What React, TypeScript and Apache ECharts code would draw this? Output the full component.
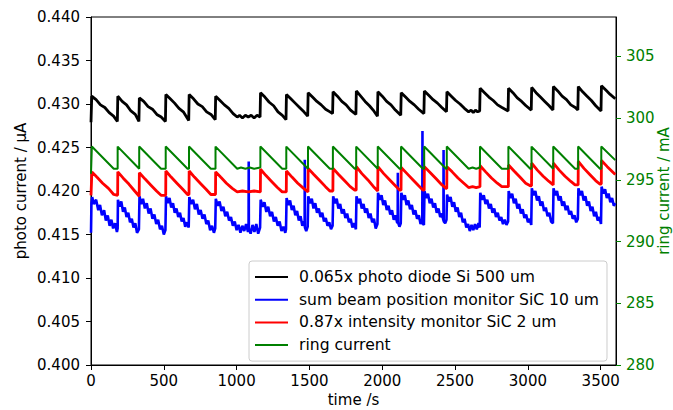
import React, { useEffect, useRef } from "react";
import * as echarts from "echarts";

const seriesNames = [
  "0.065x photo diode Si 500 um",
  "sum beam position monitor SiC 10 um",
  "0.87x intensity monitor SiC 2 um",
  "ring current",
];
const seriesColors = ["#000000", "#0000ff", "#ff0000", "#008000"];

const xTicks = [0, 500, 1000, 1500, 2000, 2500, 3000, 3500];
const rightTicks = [280, 285, 290, 295, 300, 305];

const photoDiode: [number, number][] = [
  [0, .4279], [5, .4309], [35, .4305], [65, .4299], [95, .4296], [125, .4290], [155, .4286], [181, .4280],
  [184, .4309], [214, .4303], [244, .4299], [274, .4292], [304, .4288], [329, .4280],
  [332, .4307], [362, .4303], [392, .4297], [422, .4294], [452, .4288], [482, .4285], [511, .4280],
  [514, .4311], [544, .4306], [574, .4301], [604, .4295], [634, .4291], [671, .4281],
  [674, .4311], [704, .4306], [734, .4300], [764, .4297], [794, .4291], [824, .4288], [853, .4282],
  [856, .4309], [886, .4304], [916, .4299], [946, .4295], [976, .4289], [1004, .4285], [1020, .4287], [1040, .4284], [1060, .4287], [1080, .4285], [1100, .4287], [1120, .4284], [1140, .4287], [1161, .4285],
  [1164, .4313], [1194, .4308], [1224, .4302], [1254, .4298], [1284, .4291], [1314, .4287], [1339, .4282],
  [1342, .4311], [1372, .4306], [1402, .4301], [1432, .4296], [1462, .4291], [1488, .4286],
  [1491, .4313], [1521, .4308], [1551, .4303], [1581, .4299], [1611, .4294], [1641, .4291], [1659, .4289],
  [1662, .4314], [1692, .4309], [1722, .4303], [1752, .4299], [1782, .4293], [1819, .4288],
  [1822, .4315], [1852, .4309], [1882, .4303], [1912, .4298], [1942, .4292], [1967, .4286],
  [1970, .4314], [2000, .4309], [2030, .4303], [2060, .4299], [2090, .4293], [2127, .4287],
  [2130, .4313], [2160, .4308], [2190, .4303], [2220, .4299], [2250, .4294], [2286, .4289],
  [2289, .4315], [2319, .4310], [2349, .4305], [2379, .4301], [2409, .4296], [2441, .4291],
  [2444, .4314], [2474, .4309], [2504, .4304], [2534, .4300], [2564, .4295], [2593, .4291], [2610, .4293], [2625, .4290], [2640, .4293], [2655, .4291], [2669, .4292],
  [2672, .4318], [2702, .4313], [2732, .4308], [2762, .4304], [2792, .4299], [2822, .4296], [2864, .4292],
  [2867, .4318], [2897, .4313], [2927, .4307], [2957, .4303], [2987, .4298], [3023, .4293],
  [3026, .4319], [3056, .4313], [3086, .4308], [3116, .4303], [3146, .4298], [3172, .4293],
  [3175, .4320], [3205, .4315], [3235, .4309], [3265, .4305], [3295, .4299], [3325, .4296], [3343, .4293],
  [3346, .4320], [3376, .4314], [3406, .4309], [3436, .4304], [3466, .4298], [3502, .4292],
  [3505, .4321], [3535, .4316], [3565, .4311], [3600, .4306],
];

const beamPosition: [number, number][] = [
  [0, .4152], [3, .4186], [8, .4193], [20, .4185], [35, .4190], [50, .4178], [62, .4184], [75, .4172], [90, .4178], [102, .4166], [115, .4172], [128, .4160], [140, .4167], [152, .4157], [165, .4163], [178, .4153], [183, .4157],
  [185, .4190], [196, .4182], [208, .4188], [220, .4176], [232, .4181], [244, .4170], [256, .4175], [268, .4164], [280, .4168], [292, .4158], [304, .4163], [316, .4152], [329, .4156],
  [333, .4194], [345, .4185], [357, .4191], [370, .4180], [383, .4186], [396, .4174], [409, .4180], [422, .4168], [435, .4173], [448, .4162], [461, .4167], [474, .4156], [487, .4160], [500, .4150], [511, .4155],
  [515, .4194], [527, .4186], [539, .4192], [551, .4181], [563, .4186], [575, .4175], [587, .4180], [599, .4170], [611, .4175], [623, .4165], [635, .4169], [647, .4159], [659, .4164], [671, .4158],
  [675, .4193], [688, .4185], [701, .4190], [714, .4179], [727, .4185], [740, .4173], [753, .4178], [766, .4168], [779, .4173], [792, .4162], [805, .4166], [818, .4155], [831, .4160], [844, .4152], [853, .4157],
  [857, .4191], [870, .4183], [883, .4188], [896, .4177], [909, .4182], [922, .4171], [935, .4176], [948, .4166], [961, .4170], [974, .4160], [987, .4165], [1000, .4155], [1013, .4161], [1026, .4152], [1039, .4160], [1052, .4154], [1065, .4162], [1078, .4153], [1082, .4158], [1083, .4234], [1084, .4157], [1096, .4151], [1109, .4161], [1122, .4153], [1135, .4162], [1148, .4151], [1161, .4158],
  [1165, .4190], [1178, .4182], [1191, .4187], [1204, .4176], [1217, .4182], [1230, .4171], [1243, .4176], [1256, .4165], [1269, .4170], [1282, .4160], [1295, .4165], [1308, .4154], [1321, .4159], [1334, .4152], [1339, .4156],
  [1343, .4192], [1355, .4184], [1367, .4189], [1379, .4178], [1391, .4183], [1403, .4172], [1415, .4177], [1427, .4166], [1439, .4171], [1451, .4160], [1463, .4165], [1467, .4160], [1468, .4236], [1469, .4158], [1478, .4154], [1488, .4159],
  [1492, .4194], [1504, .4186], [1516, .4191], [1528, .4180], [1540, .4186], [1552, .4175], [1564, .4180], [1576, .4170], [1588, .4175], [1600, .4165], [1612, .4169], [1624, .4160], [1636, .4164], [1648, .4156], [1659, .4160],
  [1663, .4194], [1675, .4186], [1687, .4191], [1699, .4180], [1711, .4185], [1723, .4174], [1735, .4179], [1747, .4169], [1759, .4174], [1771, .4164], [1783, .4168], [1795, .4158], [1807, .4163], [1819, .4156],
  [1823, .4194], [1835, .4186], [1847, .4191], [1859, .4180], [1871, .4185], [1883, .4175], [1895, .4180], [1907, .4169], [1919, .4174], [1931, .4164], [1943, .4168], [1955, .4157], [1967, .4162],
  [1971, .4198], [1983, .4190], [1995, .4195], [2007, .4184], [2019, .4189], [2031, .4178], [2043, .4183], [2055, .4173], [2067, .4178], [2079, .4167], [2091, .4172], [2103, .4163], [2106, .4167], [2107, .4221], [2108, .4164], [2118, .4159], [2127, .4163],
  [2131, .4198], [2143, .4190], [2155, .4195], [2167, .4184], [2179, .4189], [2191, .4179], [2203, .4184], [2215, .4173], [2227, .4178], [2239, .4168], [2251, .4172], [2263, .4162], [2275, .4167], [2276, .4269], [2277, .4163], [2286, .4161],
  [2290, .4200], [2302, .4192], [2314, .4197], [2326, .4186], [2338, .4191], [2350, .4181], [2362, .4186], [2374, .4175], [2386, .4180], [2398, .4170], [2410, .4174], [2420, .4166], [2421, .4247], [2422, .4165], [2432, .4163], [2441, .4167],
  [2445, .4196], [2457, .4188], [2469, .4193], [2481, .4182], [2493, .4187], [2505, .4176], [2517, .4181], [2529, .4170], [2541, .4175], [2553, .4164], [2565, .4168], [2577, .4158], [2589, .4162], [2601, .4154], [2613, .4161], [2625, .4155], [2637, .4162], [2649, .4156], [2661, .4163], [2669, .4158],
  [2673, .4198], [2685, .4190], [2697, .4195], [2709, .4185], [2721, .4190], [2733, .4180], [2745, .4185], [2757, .4175], [2769, .4180], [2781, .4170], [2793, .4175], [2805, .4166], [2817, .4170], [2829, .4162], [2841, .4167], [2853, .4161], [2864, .4165],
  [2868, .4200], [2880, .4192], [2892, .4197], [2904, .4186], [2916, .4191], [2928, .4180], [2940, .4185], [2952, .4174], [2964, .4179], [2976, .4169], [2988, .4173], [3000, .4164], [3012, .4168], [3023, .4161],
  [3027, .4203], [3039, .4195], [3051, .4200], [3063, .4189], [3075, .4194], [3087, .4183], [3099, .4188], [3111, .4177], [3123, .4181], [3135, .4171], [3147, .4175], [3159, .4165], [3172, .4163],
  [3176, .4203], [3188, .4195], [3200, .4200], [3212, .4189], [3224, .4194], [3236, .4183], [3248, .4188], [3260, .4178], [3272, .4183], [3284, .4173], [3296, .4177], [3308, .4168], [3320, .4172], [3332, .4164], [3343, .4168],
  [3347, .4203], [3359, .4195], [3371, .4200], [3383, .4189], [3395, .4194], [3407, .4183], [3419, .4188], [3431, .4177], [3443, .4182], [3455, .4171], [3467, .4176], [3479, .4166], [3491, .4170], [3502, .4162],
  [3506, .4205], [3518, .4197], [3530, .4202], [3542, .4192], [3554, .4197], [3566, .4187], [3578, .4192], [3590, .4183], [3600, .4186],
];

const intensityMonitor: [number, number][] = [
  [0, .4195], [6, .4222], [40, .4216], [80, .4209], [120, .4203], [156, .4196], [183, .4195],
  [184, .4222], [220, .4215], [260, .4208], [300, .4200], [331, .4194],
  [332, .4221], [370, .4214], [410, .4207], [450, .4200], [481, .4195], [513, .4195],
  [514, .4223], [550, .4216], [590, .4209], [630, .4202], [663, .4196], [673, .4196],
  [674, .4223], [710, .4216], [750, .4209], [790, .4202], [823, .4196], [855, .4196],
  [856, .4222], [890, .4216], [930, .4209], [970, .4203], [1004, .4199], [1040, .4200], [1080, .4199], [1120, .4200], [1163, .4199],
  [1164, .4225], [1200, .4218], [1240, .4211], [1280, .4204], [1313, .4199], [1341, .4199],
  [1342, .4223], [1380, .4216], [1420, .4209], [1460, .4203], [1490, .4199],
  [1491, .4226], [1530, .4219], [1570, .4212], [1610, .4205], [1640, .4200], [1661, .4200],
  [1662, .4226], [1700, .4219], [1740, .4212], [1780, .4205], [1811, .4201], [1821, .4201],
  [1822, .4228], [1860, .4220], [1900, .4213], [1940, .4205], [1969, .4200],
  [1970, .4228], [2010, .4220], [2050, .4213], [2090, .4206], [2119, .4201], [2129, .4201],
  [2130, .4227], [2170, .4220], [2210, .4213], [2250, .4206], [2279, .4201], [2288, .4201],
  [2289, .4228], [2330, .4221], [2370, .4214], [2410, .4207], [2438, .4203], [2443, .4203],
  [2444, .4228], [2480, .4222], [2520, .4215], [2560, .4209], [2593, .4204], [2620, .4205], [2645, .4204], [2671, .4205],
  [2672, .4229], [2710, .4222], [2750, .4215], [2790, .4209], [2821, .4205], [2866, .4205],
  [2867, .4230], [2905, .4223], [2945, .4216], [2985, .4209], [3016, .4206], [3025, .4206],
  [3026, .4232], [3065, .4224], [3105, .4217], [3145, .4211], [3174, .4207],
  [3175, .4232], [3215, .4224], [3255, .4217], [3295, .4211], [3324, .4207], [3345, .4207],
  [3346, .4234], [3385, .4226], [3425, .4219], [3465, .4212], [3495, .4208], [3504, .4208],
  [3505, .4235], [3545, .4228], [3600, .4219],
];

const ringCurrent: [number, number][] = [
  [0, 295.5], [6, 297.7], [156, 295.9], [183, 295.9],
  [183, 297.7], [331, 295.9],
  [331, 297.7], [481, 295.9], [513, 295.9],
  [513, 297.7], [663, 295.9], [673, 295.9],
  [673, 297.7], [823, 295.9], [855, 295.9],
  [855, 297.7], [1004, 295.9], [1030, 296.0], [1060, 295.9], [1090, 296.0], [1120, 295.9], [1163, 296.0],
  [1163, 297.7], [1313, 295.9], [1341, 295.9],
  [1341, 297.7], [1490, 295.9],
  [1490, 297.7], [1640, 295.9], [1661, 295.9],
  [1661, 297.7], [1811, 295.9], [1821, 295.9],
  [1821, 297.7], [1969, 295.9],
  [1969, 297.7], [2119, 295.9], [2129, 295.9],
  [2129, 297.7], [2279, 295.9], [2288, 295.9],
  [2288, 297.7], [2438, 295.9], [2443, 295.9],
  [2443, 297.7], [2593, 295.9], [2620, 296.0], [2645, 295.9], [2671, 296.0],
  [2671, 297.7], [2821, 295.9], [2866, 295.9],
  [2866, 297.7], [3016, 295.9], [3025, 295.9],
  [3025, 297.7], [3174, 295.9],
  [3174, 297.7], [3324, 295.9], [3345, 295.9],
  [3345, 297.7], [3495, 295.9], [3504, 295.9],
  [3504, 297.7], [3600, 296.6],
];

const FONT = "DejaVu Sans";
const FS = 15;

export default function App() {
  const ref = useRef<HTMLDivElement>(null);
  useEffect(() => {
    if (!ref.current) return;
    const chart = echarts.init(ref.current, undefined, { renderer: "svg" });
    const seriesData = [photoDiode, beamPosition, intensityMonitor, ringCurrent];
    const widths = [2.8, 2.6, 2.8, 2];
    chart.setOption({
      animation: false,
      textStyle: { fontFamily: FONT },
      grid: {
        left: 91, right: 57, top: 17, bottom: 45,
        containLabel: false,
        outerBoundsMode: "none",
        show: true, borderColor: "#000", borderWidth: 1, backgroundColor: "transparent",
      },
      legend: {
        orient: "vertical",
        left: 249,
        top: 261,
        padding: [7, 8, 7, 6],
        icon: "rect",
        itemWidth: 33,
        itemHeight: 2,
        itemGap: 4.7,
        backgroundColor: "#fff",
        borderColor: "#cccccc",
        borderWidth: 1,
        borderRadius: 3,
        textStyle: { fontFamily: FONT, fontSize: 15.6, lineHeight: 18, color: "#000", padding: [0, 0, 0, 6] },
        data: seriesNames,
      },
      xAxis: {
        type: "value",
        min: 0,
        max: 3605,
        interval: 500,
        name: "time /s",
        nameLocation: "middle",
        nameGap: 27,
        nameMoveOverlap: false,
        nameTextStyle: { fontFamily: FONT, fontSize: FS, color: "#000" },
        axisLine: { lineStyle: { color: "#000", width: 1 } },
        axisTick: { show: true, length: 5, customValues: xTicks, lineStyle: { color: "#000" } },
        axisLabel: {
          customValues: xTicks, fontFamily: FONT, fontSize: FS, color: "#000", margin: 8,
          formatter: (v: number) => String(v),
        },
        splitLine: { show: false },
      },
      yAxis: [
        {
          type: "value",
          min: 0.4,
          max: 0.44,
          interval: 0.005,
          position: "left",
          name: "photo current / µA",
          nameLocation: "middle",
          nameRotate: 90,
          nameGap: 63,
          nameMoveOverlap: false,
          nameTextStyle: { fontFamily: FONT, fontSize: FS, color: "#000" },
          axisLine: { show: true, lineStyle: { color: "#000", width: 1 } },
          axisTick: { show: true, length: 5, lineStyle: { color: "#000" } },
          axisLabel: {
            fontFamily: FONT, fontSize: FS, color: "#000", margin: 11,
            formatter: (v: number) => v.toFixed(3),
          },
          splitLine: { show: false },
        },
        {
          type: "value",
          min: 280,
          max: 308.2,
          interval: 5,
          position: "right",
          name: "ring current / mA",
          nameLocation: "middle",
          nameRotate: 90,
          nameGap: 40,
          nameMoveOverlap: false,
          nameTextStyle: { fontFamily: FONT, fontSize: FS, color: "#008000" },
          axisLine: { show: true, lineStyle: { color: "#000", width: 1 } },
          axisTick: { show: true, length: 5, customValues: rightTicks, lineStyle: { color: "#008000" } },
          axisLabel: { customValues: rightTicks, fontFamily: FONT, fontSize: FS, color: "#008000", margin: 10 },
          splitLine: { show: false },
        },
      ],
      series: seriesNames.map((name, i) => ({
        name,
        type: "line",
        data: seriesData[i],
        yAxisIndex: i === 3 ? 1 : 0,
        showSymbol: false,
        symbol: "none",
        silent: true,
        z: 2 + i,
        lineStyle: { color: seriesColors[i], width: widths[i] },
        itemStyle: { color: seriesColors[i] },
        emphasis: { disabled: true },
      })),
    });
    return () => chart.dispose();
  }, []);
  return (
    <div
      ref={ref}
      style={{ position: "fixed", left: 0, top: 0, width: 673, height: 410, background: "#fff" }}
    />
  );
}
